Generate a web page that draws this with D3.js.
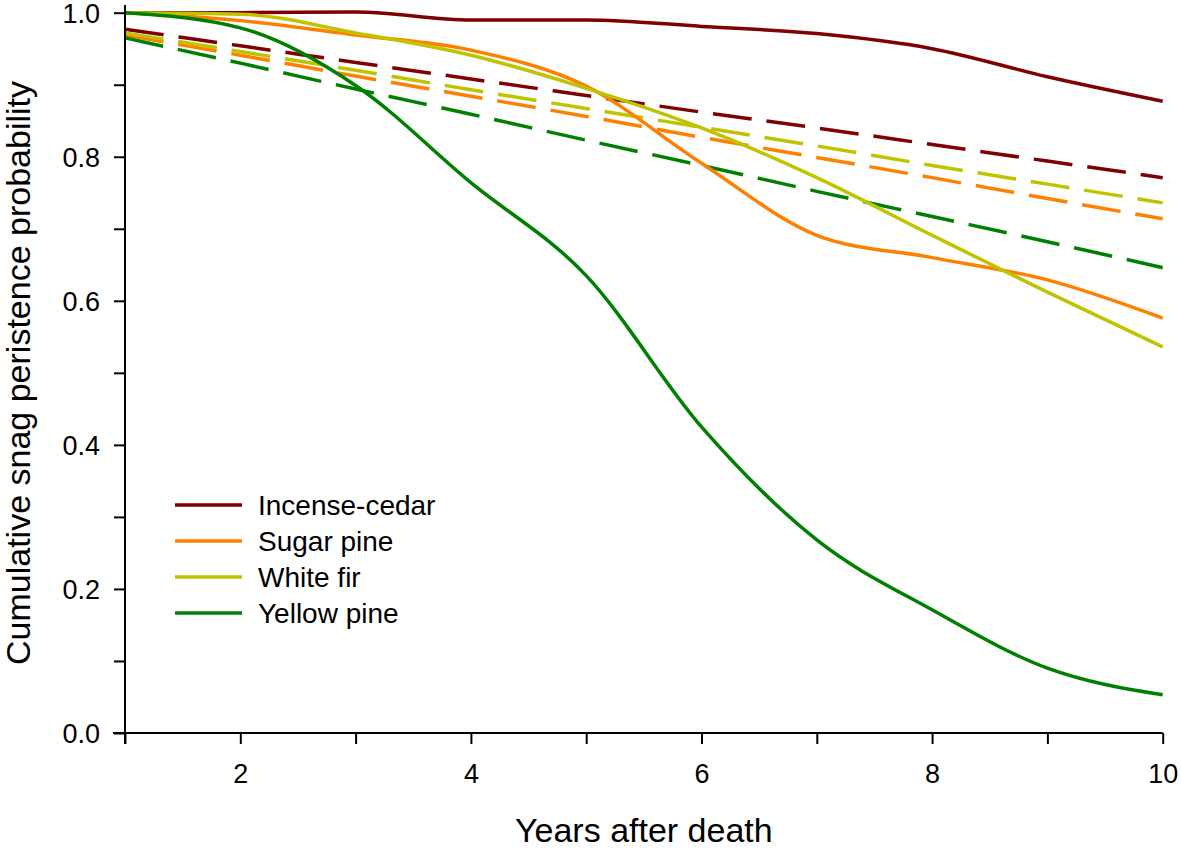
<!DOCTYPE html>
<html>
<head>
<meta charset="utf-8">
<script src="https://cdn.jsdelivr.net/npm/d3@7"></script>
<style>
  html, body { margin: 0; padding: 0; background: #fff; }
  svg { display: block; font-family: Arial, "Liberation Sans", sans-serif; }
</style>
</head>
<body>
<svg id="chart" width="1181" height="851"></svg>
<script>
// ---- Data ----
const years = [1, 2, 3, 4, 5, 6, 7, 8, 9, 10];
const species = ["Incense-cedar", "Sugar pine", "White fir", "Yellow pine"];
const colors = ["#800000", "#FF8000", "#BFC300", "#008000"];

// Solid (observed) curves
const incenseSolid = [1.000, 1.000, 1.001, 0.990, 0.990, 0.981, 0.971, 0.950, 0.911, 0.877];
const sugarSolid   = [1.000, 0.989, 0.969, 0.948, 0.898, 0.791, 0.691, 0.660, 0.629, 0.576];
const whiteSolid   = [1.000, 0.998, 0.972, 0.941, 0.895, 0.840, 0.771, 0.691, 0.612, 0.536];
const yellowSolid  = [1.000, 0.979, 0.899, 0.764, 0.635, 0.425, 0.268, 0.171, 0.090, 0.053];

// Dashed (model) curves
const incenseDash = [0.977, 0.954, 0.931, 0.908, 0.885, 0.862, 0.840, 0.817, 0.794, 0.771];
const sugarDash   = [0.969, 0.941, 0.912, 0.884, 0.856, 0.827, 0.799, 0.771, 0.742, 0.714];
const whiteDash   = [0.972, 0.946, 0.920, 0.893, 0.867, 0.841, 0.815, 0.788, 0.762, 0.736];
const yellowDash  = [0.965, 0.930, 0.894, 0.859, 0.823, 0.788, 0.752, 0.717, 0.682, 0.646];

const xTickLabels = [2, 4, 6, 8, 10];
const yTickLabels = [0.0, 0.2, 0.4, 0.6, 0.8, 1.0];
const xTitle = "Years after death";
const yTitle = "Cumulative snag peristence probability";

const solidSeries = [incenseSolid, sugarSolid, whiteSolid, yellowSolid];
const dashSeries = [incenseDash, sugarDash, whiteDash, yellowDash];

// ---- Layout ----
const svg = d3.select("#chart");
const x = d3.scaleLinear().domain([1, 10]).range([125, 1162.7]);
const y = d3.scaleLinear().domain([0, 1]).range([733, 12.7]);

const line = d3.line()
  .x((d, i) => x(years[i]))
  .y(d => y(d))
  .curve(d3.curveMonotoneX);

// Dashed lines (drawn first)
const gDash = svg.append("g");
dashSeries.forEach((s, k) => {
  gDash.append("path")
    .datum(s)
    .attr("d", line)
    .attr("fill", "none")
    .attr("stroke", colors[k])
    .attr("stroke-width", 3.5)
    .attr("stroke-dasharray", "39,15");
});

// Solid lines
const gSolid = svg.append("g");
[0, 1, 2, 3].forEach(k => {
  gSolid.append("path")
    .datum(solidSeries[k])
    .attr("d", line)
    .attr("fill", "none")
    .attr("stroke", colors[k])
    .attr("stroke-width", 3.5)
    .attr("stroke-linejoin", "round");
});

// ---- Axes ----
const axisColor = "#000";
// X axis
const xAxis = d3.axisBottom(x)
  .tickValues(d3.range(1, 11))
  .tickSize(11)
  .tickFormat(d => xTickLabels.includes(d) ? d : "");
const gx = svg.append("g").attr("transform", `translate(0,${y(0)})`).call(xAxis);
gx.select(".domain").remove();
gx.selectAll(".tick line").attr("stroke", axisColor).attr("stroke-width", 2);
gx.selectAll(".tick text")
  .attr("font-size", 27)
  .attr("font-family", "Arial, 'Liberation Sans', sans-serif")
  .attr("fill", "#000")
  .attr("y", 0)
  .attr("dy", 50);
svg.append("line")
  .attr("x1", 113).attr("x2", x(10))
  .attr("y1", y(0)).attr("y2", y(0))
  .attr("stroke", axisColor).attr("stroke-width", 2);

// Y axis
const yAxis = d3.axisLeft(y)
  .tickValues(d3.range(0, 11).map(d => d / 10))
  .tickSize(11)
  .tickFormat(d => {
    const r = Math.round(d * 10);
    return r % 2 === 0 ? d3.format(".1f")(d) : "";
  });
const gy = svg.append("g").attr("transform", `translate(${x(1)},0)`).call(yAxis);
gy.select(".domain").remove();
gy.selectAll(".tick line").attr("stroke", axisColor).attr("stroke-width", 2);
gy.selectAll(".tick text")
  .attr("font-size", 27)
  .attr("font-family", "Arial, 'Liberation Sans', sans-serif")
  .attr("fill", "#000")
  .attr("x", -25)
  .attr("dy", "0.36em");
svg.append("line")
  .attr("x1", x(1)).attr("x2", x(1))
  .attr("y1", 5).attr("y2", 744)
  .attr("stroke", axisColor).attr("stroke-width", 2);

// Titles
svg.append("text")
  .attr("x", (x(1) + x(10)) / 2)
  .attr("y", 842)
  .attr("text-anchor", "middle")
  .attr("font-size", 34)
  .attr("fill", "#000")
  .text(xTitle);

svg.append("text")
  .attr("transform", `translate(30,${373}) rotate(-90)`)
  .attr("text-anchor", "middle")
  .attr("font-size", 34)
  .attr("fill", "#000")
  .text(yTitle);

// Legend
const legend = svg.append("g");
species.forEach((name, k) => {
  const ly = 505 + k * 36;
  legend.append("line")
    .attr("x1", 175).attr("x2", 242)
    .attr("y1", ly).attr("y2", ly)
    .attr("stroke", colors[k])
    .attr("stroke-width", 3.5);
  legend.append("text")
    .attr("x", 258)
    .attr("y", ly)
    .attr("dy", "0.36em")
    .attr("font-size", 28)
    .attr("fill", "#000")
    .text(name);
});
</script>
</body>
</html>
